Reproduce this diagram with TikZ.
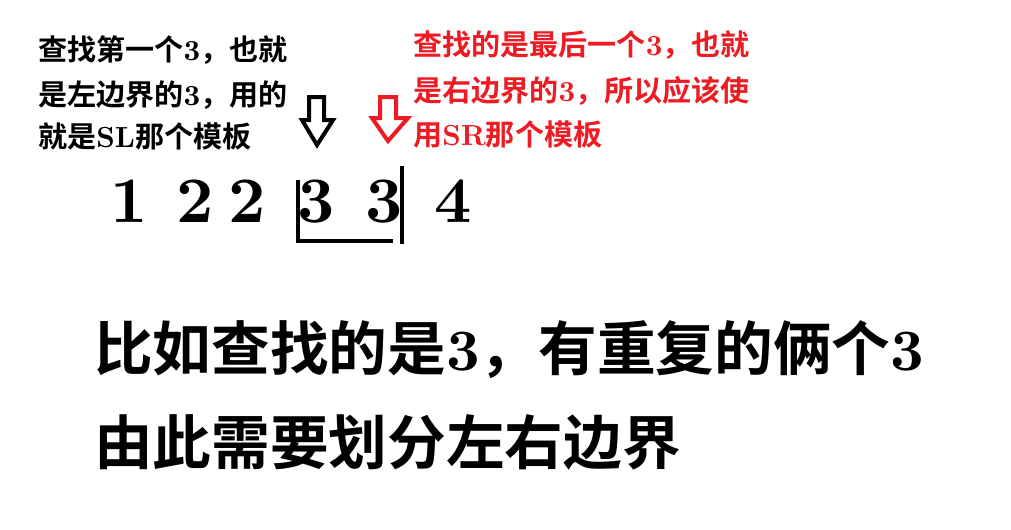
\documentclass[tikz,border=0pt]{standalone}
\usepackage{fontspec}
\newfontfamily\cjk{Noto Sans CJK SC}[BoldFont={* Bold}]
\newfontfamily\lmbold{lmroman10-bold.otf}
\newcommand\lmb[1]{{\lmbold #1}}
\definecolor{paintred}{RGB}{237,28,36}
\tikzset{
  small/.style={anchor=base west, inner sep=0pt, font=\fontsize{21.8}{26}\cjk\bfseries},
  big/.style={anchor=base west, inner sep=0pt, font=\fontsize{44}{52}\cjk\bfseries},
  digit/.style={anchor=base, inner sep=0pt, font=\fontsize{48.75}{58}\lmbold},
  hollowarrow/.style={line width=3pt, line join=miter},
  bracketline/.style={line width=3pt}
}
\begin{document}
\begin{tikzpicture}[x=0.75pt,y=-0.75pt]
\useasboundingbox (0,0) rectangle (1011,529);
% left black note
\node[small] (l1) at (38,60) {查找第一个\lmb{3}，也就};
\node[small] (l2) at (38,105) {是左边界的\lmb{3}，用的};
\node[small] (l3) at (38,147) {就是\lmb{SL}那个模板};
% right red note
\node[small,text=paintred] (r1) at (413,55) {查找的是最后一个\lmb{3}，也就};
\node[small,text=paintred] (r2) at (413,101) {是右边界的\lmb{3}，所以应该使};
\node[small,text=paintred] (r3) at (413,145) {用\lmb{SR}那个模板};
% digits
\node[digit] (d1) at (129,222) {1};
\node[digit] (d2) at (195,222) {2};
\node[digit] (d3) at (247,222) {2};
\node[digit] (d4) at (316,222) {3};
\node[digit] (d5) at (384,222) {3};
\node[digit] (d6) at (453,222) {4};
% arrows
\draw[hollowarrow] (309,97) -- (324,97) -- (324,120) -- (333,120) -- (317,145) -- (302,120) -- (309,120) -- cycle;
\draw[hollowarrow,draw=paintred] (380,97) -- (396,97) -- (396,118) -- (408,118) -- (388,141) -- (372,118) -- (380,118) -- cycle;
% bracket
\coordinate (bl) at (298,180);
\coordinate (bb) at (298,241);
\coordinate (br) at (393,241);
\coordinate (rt) at (402,166);
\coordinate (rb) at (402,244);
\draw[bracketline] (bl) -- (bb) -- (br);
\draw[bracketline] (rt) -- (rb);
% bottom text
\node[big] (b1) at (94,370) {比如查找的是\lmb{3}，有重复的俩个\lmb{3}};
\node[big] (b2) at (94,464) {由此需要划分左右边界};
\end{tikzpicture}
\end{document}
